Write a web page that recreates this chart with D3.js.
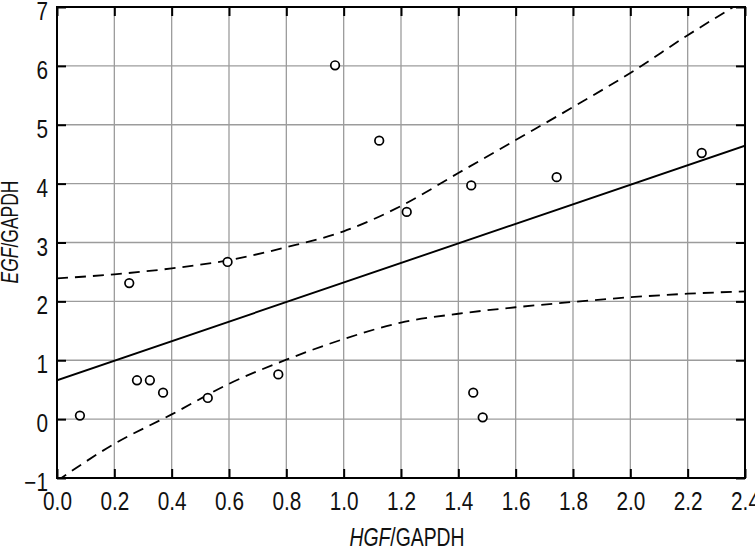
<!DOCTYPE html>
<html>
<head>
<meta charset="utf-8">
<script src="https://cdn.jsdelivr.net/npm/d3@7"></script>
<style>
  html, body { margin: 0; padding: 0; background: #fff; }
  svg { display: block; }
  text { font-family: "Liberation Sans", Arial, sans-serif; fill: #111; }
</style>
</head>
<body>
<svg id="chart" width="755" height="551"></svg>
<script>
// ---- data ----
const hgf = [0.08, 0.252, 0.279, 0.324, 0.370, 0.526, 0.595, 0.772, 0.970, 1.124, 1.220, 1.445, 1.452, 1.485, 1.743, 2.249];
const egf = [0.06, 2.31, 0.66, 0.66, 0.45, 0.36, 2.67, 0.76, 6.01, 4.73, 3.52, 3.97, 0.45, 0.03, 4.11, 4.52];

const fitX = [0, 2.4];
const fitY = [0.66, 4.645];

const bandX     = [0, 0.2, 0.4, 0.6, 0.8, 1.0, 1.2, 1.4, 1.6, 1.8, 2.0, 2.2, 2.4];
const bandUpper = [2.39, 2.46, 2.56, 2.70, 2.92, 3.19, 3.62, 4.18, 4.74, 5.30, 5.88, 6.52, 7.12];
const bandLower = [-1.05, -0.42, 0.08, 0.60, 1.01, 1.36, 1.64, 1.79, 1.90, 1.99, 2.07, 2.13, 2.17];

const xTicks = [0, 0.2, 0.4, 0.6, 0.8, 1.0, 1.2, 1.4, 1.6, 1.8, 2.0, 2.2, 2.4];
const yTicks = [-1, 0, 1, 2, 3, 4, 5, 6, 7];
const xTitleItalic = "HGF", xTitleRest = "/GAPDH";
const yTitleItalic = "EGF", yTitleRest = "/GAPDH";

// ---- layout ----
const L = 57, R = 745, T = 7, B = 478;
const SX = 0.83; // horizontal condensing of tick labels
const svg = d3.select("#chart");
const x = d3.scaleLinear().domain([0, 2.4]).range([L, R]);
const y = d3.scaleLinear().domain([-1, 7]).range([B, T]);

svg.append("defs").append("clipPath").attr("id", "plotclip")
  .append("rect").attr("x", L).attr("y", T).attr("width", R - L).attr("height", B - T);

// grid
const grid = svg.append("g").attr("stroke", "#9c9c9c").attr("stroke-width", 1.3);
grid.selectAll(".gx").data(xTicks.slice(1, -1)).join("line")
  .attr("x1", d => x(d)).attr("x2", d => x(d)).attr("y1", T).attr("y2", B);
grid.selectAll(".gy").data(yTicks.slice(1, -1)).join("line")
  .attr("y1", d => y(d)).attr("y2", d => y(d)).attr("x1", L).attr("x2", R);

// axes (inward ticks on all four sides)
function styleAxis(g) {
  g.select(".domain").remove();
  g.selectAll(".tick line").attr("stroke", "#000").attr("stroke-width", 2);
  g.selectAll(".tick text").attr("font-size", 25).attr("fill", "#111")
    .style("font-family", '"Liberation Sans", Arial, sans-serif');
}
const gb = svg.append("g").attr("transform", `translate(0,${B})`)
  .call(d3.axisBottom(x).tickValues(xTicks).tickFormat(d3.format(".1f")).tickSizeInner(-9).tickSizeOuter(0).tickPadding(14))
  .call(styleAxis);
gb.selectAll(".tick text").attr("transform", `scale(${SX},1)`);

const gl = svg.append("g").attr("transform", `translate(${L},0)`)
  .call(d3.axisLeft(y).tickValues(yTicks).tickFormat(d => d < 0 ? "\u2212" + Math.abs(d) : d).tickSizeInner(-9).tickSizeOuter(0).tickPadding(9))
  .call(styleAxis);
gl.selectAll(".tick text").attr("dy", "0.5em").attr("x", -9 / SX).attr("transform", `scale(${SX},1)`);

svg.append("g").attr("transform", `translate(0,${T})`)
  .call(d3.axisTop(x).tickValues(xTicks).tickFormat("").tickSizeInner(-9).tickSizeOuter(0))
  .call(styleAxis);
svg.append("g").attr("transform", `translate(${R},0)`)
  .call(d3.axisRight(y).tickValues(yTicks).tickFormat("").tickSizeInner(-9).tickSizeOuter(0))
  .call(styleAxis);

// frame
svg.append("rect").attr("x", L).attr("y", T).attr("width", R - L).attr("height", B - T)
  .attr("fill", "none").attr("stroke", "#000").attr("stroke-width", 2);

// confidence band
const plot = svg.append("g").attr("clip-path", "url(#plotclip)");
const bandLine = d3.line().x(d => x(d[0])).y(d => y(d[1])).curve(d3.curveMonotoneX);
[bandUpper, bandLower].forEach(arr => {
  plot.append("path").datum(bandX.map((v, i) => [v, arr[i]]))
    .attr("d", bandLine).attr("fill", "none").attr("stroke", "#000")
    .attr("stroke-width", 1.8).attr("stroke-dasharray", "11,7");
});

// regression line
plot.append("path").datum(fitX.map((v, i) => [v, fitY[i]]))
  .attr("d", d3.line().x(d => x(d[0])).y(d => y(d[1])))
  .attr("fill", "none").attr("stroke", "#000").attr("stroke-width", 1.9);

// points
svg.append("g").selectAll("circle").data(hgf.map((v, i) => [v, egf[i]])).join("circle")
  .attr("cx", d => x(d[0])).attr("cy", d => y(d[1])).attr("r", 4.3)
  .attr("fill", "#fff").attr("stroke", "#000").attr("stroke-width", 1.7);

// axis titles
const xt = svg.append("g").attr("transform", "translate(407,546)")
  .append("text").attr("text-anchor", "middle").attr("font-size", 25).attr("transform", "scale(0.775,1)");
xt.append("tspan").attr("font-style", "italic").text(xTitleItalic);
xt.append("tspan").text(xTitleRest);

const yt = svg.append("g").attr("transform", "translate(18,232) rotate(-90)")
  .append("text").attr("text-anchor", "middle").attr("font-size", 23).attr("transform", "scale(0.76,1)");
yt.append("tspan").attr("font-style", "italic").text(yTitleItalic);
yt.append("tspan").text(yTitleRest);
</script>
</body>
</html>
